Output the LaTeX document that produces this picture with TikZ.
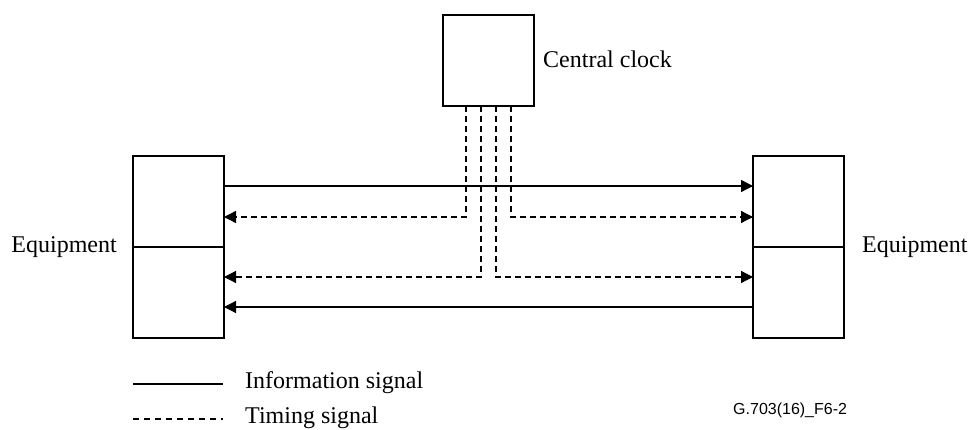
\documentclass[tikz,border=0pt]{standalone}
\usepackage{fontspec}
\setmainfont{Liberation Serif}
\newfontfamily\labelsans{Liberation Sans}
\usetikzlibrary{arrows.meta,calc}
\begin{document}
\begin{tikzpicture}[x=1pt,y=-1pt,
  box/.style={draw, line width=1.4pt, minimum width=91pt, minimum height=91pt, inner sep=0pt, outer sep=0pt},
  clockbox/.style={draw, line width=1.4pt, minimum width=91pt, minimum height=91pt, inner sep=0pt, outer sep=0pt},
  info/.style={line width=1.3pt},
  timing/.style={line width=1.3pt, dash pattern=on 6pt off 4pt},
  tip/.style={-{Triangle[length=12pt,width=12pt]}},
  lbl/.style={font=\fontsize{24}{27}\selectfont, inner sep=0pt}
]
\useasboundingbox (0,0) rectangle (969,430);
% boxes
\node[clockbox] (clk) at (488.5,60.5) {};
\node[box] (lt) at (178.5,201.5) {};
\node[box] (lb) at (178.5,292.5) {};
\node[box] (rt) at (798.5,201.5) {};
\node[box] (rb) at (798.5,292.5) {};
% labels
\node[lbl, anchor=west] (cl) at (543,59) {Central clock};
\node[lbl, anchor=east] (le) at (117,247) {Equipment};
\node[lbl, anchor=west] (re) at (862,247) {Equipment};
% row coordinates
\coordinate (r1) at (0,186);
\coordinate (r2) at (0,217);
\coordinate (r3) at (0,277);
\coordinate (r4) at (0,307);
% clock taps
\coordinate (c1) at (466,0);
\coordinate (c2) at (481,0);
\coordinate (c3) at (496,0);
\coordinate (c4) at (511,0);
% timing lines
\draw[timing,tip] (clk.south -| c1) -- (c1 |- r2) -- (lt.east |- r2);
\draw[timing,tip] (clk.south -| c4) -- (c4 |- r2) -- (rt.west |- r2);
\draw[timing,tip] (clk.south -| c2) -- (c2 |- r3) -- (lb.east |- r3);
\draw[timing,tip] (clk.south -| c3) -- (c3 |- r3) -- (rb.west |- r3);
% information lines
\draw[info,tip] (lt.east |- r1) -- (rt.west |- r1);
\draw[info,tip] (rb.west |- r4) -- (lb.east |- r4);
% legend
\coordinate (l1a) at (133,384);
\coordinate (l1b) at (223,384);
\coordinate (l2a) at (133,419);
\coordinate (l2b) at (223,419);
\draw[info] (l1a) -- (l1b);
\draw[timing, dash pattern=on 6pt off 5pt] (l2a) -- (l2b);
\node[lbl, anchor=west] (li) at (245,383) {Information signal};
\node[lbl, anchor=west] (lt2) at (245,418) {Timing signal};
\node[anchor=west, inner sep=0pt, font=\labelsans\fontsize{16}{18}\selectfont] (fig) at (733,410) {G.703(16)\_F6-2};
\end{tikzpicture}
\end{document}
